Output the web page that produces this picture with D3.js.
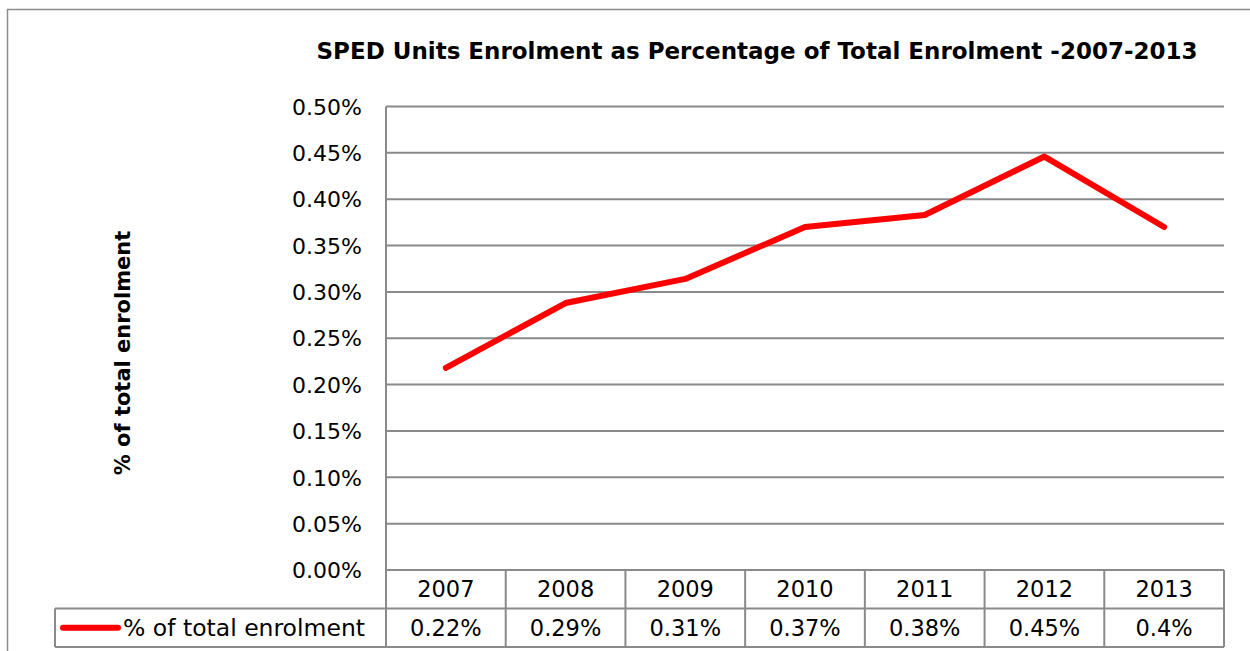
<!DOCTYPE html>
<html>
<head>
<meta charset="utf-8">
<script src="https://cdn.jsdelivr.net/npm/d3@7"></script>
<style>
  body { margin: 0; background: #fff; }
  text { font-family: "DejaVu Sans", sans-serif; fill: #000; }
</style>
</head>
<body>
<div id="chart"></div>
<script>
// chart data (values are in percent)
var years = ["2007", "2008", "2009", "2010", "2011", "2012", "2013"];
var values = [0.218, 0.288, 0.314, 0.370, 0.383, 0.446, 0.370];
var tableLabels = ["0.22%", "0.29%", "0.31%", "0.37%", "0.38%", "0.45%", "0.4%"];
var yTicks = [0, 0.05, 0.10, 0.15, 0.20, 0.25, 0.30, 0.35, 0.40, 0.45, 0.50];
var seriesName = "% of total enrolment";

var width = 1250, height = 651;

var svg = d3.select("#chart").append("svg")
    .attr("width", width)
    .attr("height", height);

// outer frame
svg.append("rect")
    .attr("x", 7.5).attr("y", 9.5)
    .attr("width", 1300).attr("height", 700)
    .attr("fill", "none")
    .attr("stroke", "#8c8c8c")
    .attr("stroke-width", 1.5);

// plot area
var plot = {left: 386, right: 1224, top: 106.5, bottom: 570};
var rowH = 38.5;

var x = d3.scaleBand()
    .domain(years)
    .range([plot.left, plot.right])
    .padding(0);

var y = d3.scaleLinear()
    .domain([0, 0.5])
    .range([plot.bottom, plot.top]);

// title
svg.append("text")
    .attr("x", 757)
    .attr("y", 59)
    .attr("text-anchor", "middle")
    .style("font-size", "23px")
    .style("font-weight", "bold")
    .text("SPED Units Enrolment as Percentage of Total Enrolment -2007-2013");

// gridlines
svg.append("g")
    .selectAll("line")
    .data(yTicks.slice(1))
    .enter().append("line")
    .attr("x1", plot.left).attr("x2", plot.right)
    .attr("y1", function(d) { return y(d); })
    .attr("y2", function(d) { return y(d); })
    .attr("stroke", "#8a8a8a")
    .attr("stroke-width", 2);

// y axis
var yAxis = svg.append("g")
    .attr("transform", "translate(" + plot.left + ",0)")
    .call(d3.axisLeft(y)
      .tickValues(yTicks)
      .tickSize(0)
      .tickPadding(24)
      .tickFormat(function(d) { return d3.format(".2f")(d) + "%"; }));
yAxis.select(".domain").remove();
yAxis.selectAll("text")
    .style("font-size", "22px")
    .style("font-family", "'DejaVu Sans', sans-serif")
    .attr("fill", "#000")
    .attr("dy", "0.35em");

// y axis title
svg.append("text")
    .attr("transform", "translate(130," + 353 + ") rotate(-90)")
    .attr("text-anchor", "middle")
    .style("font-size", "21px")
    .style("font-weight", "bold")
    .text(seriesName);

// data table
var table = svg.append("g");
var gray = "#8a8a8a";

// horizontal table lines
table.append("line")
    .attr("x1", plot.left).attr("x2", plot.right)
    .attr("y1", plot.bottom).attr("y2", plot.bottom)
    .attr("stroke", gray).attr("stroke-width", 2);
table.append("line")
    .attr("x1", 55).attr("x2", plot.right)
    .attr("y1", plot.bottom + rowH).attr("y2", plot.bottom + rowH)
    .attr("stroke", gray).attr("stroke-width", 2);
table.append("line")
    .attr("x1", 55).attr("x2", plot.right)
    .attr("y1", plot.bottom + 2 * rowH).attr("y2", plot.bottom + 2 * rowH)
    .attr("stroke", gray).attr("stroke-width", 2);
// legend cell left edge
table.append("line")
    .attr("x1", 55).attr("x2", 55)
    .attr("y1", plot.bottom + rowH).attr("y2", plot.bottom + 2 * rowH)
    .attr("stroke", gray).attr("stroke-width", 2);

// vertical column lines (also axis line on the left)
var edges = years.map(function(d) { return x(d); }).concat([plot.right]);
table.selectAll(".vline")
    .data(edges)
    .enter().append("line")
    .attr("class", "vline")
    .attr("x1", function(d) { return d; })
    .attr("x2", function(d) { return d; })
    .attr("y1", function(d, i) { return i === 0 ? plot.top : plot.bottom; })
    .attr("y2", plot.bottom + 2 * rowH)
    .attr("stroke", gray).attr("stroke-width", 2);

table.selectAll(".year")
    .data(years)
    .enter().append("text")
    .attr("class", "year")
    .attr("x", function(d) { return x(d) + x.bandwidth() / 2; })
    .attr("y", plot.bottom + rowH / 2)
    .attr("dy", "0.36em")
    .attr("text-anchor", "middle")
    .style("font-size", "22.5px")
    .text(function(d) { return d; });

table.selectAll(".val")
    .data(tableLabels)
    .enter().append("text")
    .attr("class", "val")
    .attr("x", function(d, i) { return x(years[i]) + x.bandwidth() / 2; })
    .attr("y", plot.bottom + rowH * 1.5)
    .attr("dy", "0.36em")
    .attr("text-anchor", "middle")
    .style("font-size", "22.5px")
    .text(function(d) { return d; });

// legend key
table.append("line")
    .attr("x1", 63).attr("x2", 118)
    .attr("y1", plot.bottom + rowH * 1.5).attr("y2", plot.bottom + rowH * 1.5)
    .attr("stroke", "#ff0000")
    .attr("stroke-width", 6)
    .attr("stroke-linecap", "round");
table.append("text")
    .attr("x", 123)
    .attr("y", plot.bottom + rowH * 1.5)
    .attr("dy", "0.36em")
    .style("font-size", "23.5px")
    .text(seriesName);

// the line
var line = d3.line()
    .x(function(d, i) { return x(years[i]) + x.bandwidth() / 2; })
    .y(function(d) { return y(d); });

svg.append("path")
    .datum(values)
    .attr("fill", "none")
    .attr("stroke", "#ff0000")
    .attr("stroke-width", 6)
    .attr("stroke-linecap", "round")
    .attr("stroke-linejoin", "round")
    .attr("d", line);
</script>
</body>
</html>
